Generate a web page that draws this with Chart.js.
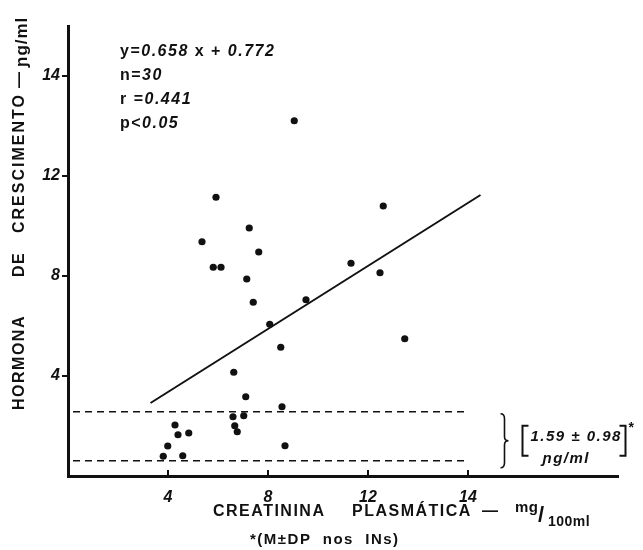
<!DOCTYPE html>
<html>
<head>
<meta charset="utf-8">
<script src="https://cdn.jsdelivr.net/npm/chart.js@4"></script>
<style>
  html, body { margin: 0; padding: 0; background: #fff; }
</style>
</head>
<body>
<canvas id="myChart" width="643" height="550"></canvas>
<script>
// dados (creatinina mg/100ml x hormona de crescimento)
var creatinina = [5.92, 5.36, 7.25, 7.63, 5.81, 6.12, 7.15, 7.41, 9.52, 8.07,
                  8.51, 6.63, 7.11, 8.56, 6.60, 7.03, 6.67, 6.77, 4.28, 4.40,
                  4.83, 3.99, 8.68, 3.81, 4.59, 12.61, 11.32, 12.48, 13.47, 9.05];
var hormona = [11.15, 9.37, 9.92, 8.96, 8.35, 8.35, 7.88, 6.95, 7.05, 6.07,
               5.15, 4.15, 3.17, 2.77, 2.37, 2.41, 2.01, 1.77, 2.04, 1.65,
               1.72, 1.20, 1.21, 0.79, 0.81, 10.80, 8.51, 8.13, 5.49, 14.21];

// reta de regressao (extremos como desenhados)
var retaX = [3.3, 16.5];
var retaY = [2.92, 11.24];

// faixa M +- DP nos INs
var faixaX = [0.2, 16];
var faixaSup = [2.57, 2.57];
var faixaInf = [0.61, 0.61];

var tickValores = [4, 8, 12, 16];
var tickTextos = ['4', '8', '12', '14'];

function pares(xs, ys) {
  return xs.map(function (v, i) { return { x: v, y: ys[i] }; });
}

const negrito = 'bold 16px "Liberation Sans"';
const italico = 'italic bold 16px "Liberation Sans"';

function escreve(c, x, y, partes) {
  partes.forEach(function (p) {
    c.font = p[1];
    c.fillText(p[0], x, y);
    x += c.measureText(p[0]).width;
  });
  return x;
}

const textos = {
  id: 'textos',
  afterDraw: function (chart) {
    const c = chart.ctx;
    const sx = chart.scales.x, sy = chart.scales.y;
    const area = chart.chartArea;
    c.save();
    c.fillStyle = '#111';
    c.strokeStyle = '#111';
    c.textBaseline = 'middle';
    c.textAlign = 'left';
    c.letterSpacing = '1.5px';

    // estatisticas
    escreve(c, 120, 52, [['y=', negrito], ['0.658', italico], [' x + ', negrito], ['0.772', italico]]);
    escreve(c, 120, 76, [['n=', negrito], ['30', italico]]);
    escreve(c, 120, 100, [['r =', negrito], ['0.441', italico]]);
    escreve(c, 120, 124, [['p<', negrito], ['0.05', italico]]);

    // marcas do eixo x (para dentro)
    c.lineWidth = 2;
    tickValores.forEach(function (v) {
      const px = sx.getPixelForValue(v);
      c.beginPath();
      c.moveTo(px, area.bottom);
      c.lineTo(px, area.bottom - 6);
      c.stroke();
    });

    // chaveta da faixa
    const yTop = sy.getPixelForValue(faixaSup[0]) + 2;
    const yBot = sy.getPixelForValue(faixaInf[0]) + 7;
    const mid = (yTop + yBot) / 2;
    const bx = sx.getPixelForValue(17.3);
    c.lineWidth = 1.6;
    c.beginPath();
    c.moveTo(bx, yTop);
    c.quadraticCurveTo(bx + 4, yTop, bx + 4, yTop + 5);
    c.lineTo(bx + 4, mid - 4);
    c.quadraticCurveTo(bx + 4, mid, bx + 8, mid);
    c.quadraticCurveTo(bx + 4, mid, bx + 4, mid + 4);
    c.lineTo(bx + 4, yBot - 5);
    c.quadraticCurveTo(bx + 4, yBot, bx, yBot);
    c.stroke();

    // colchetes
    const l = bx + 22, r = bx + 125, t = mid - 15, b = mid + 15;
    c.lineWidth = 2;
    c.beginPath();
    c.moveTo(l + 6, t); c.lineTo(l, t); c.lineTo(l, b); c.lineTo(l + 6, b);
    c.moveTo(r - 6, t); c.lineTo(r, t); c.lineTo(r, b); c.lineTo(r - 6, b);
    c.stroke();
    c.font = 'italic bold 15px "Liberation Sans"';
    c.fillText('1.59 \u00b1 0.98', l + 8, mid - 4);
    c.fillText('\u0272g/ml', l + 20, mid + 18);
    c.font = 'bold 14px "Liberation Sans"';
    c.fillText('*', r + 3, t + 2);

    // titulo eixo x
    c.font = negrito;
    c.fillText('CREATININA', 213, 512);
    c.fillText('PLASM\u00c1TICA', 352, 512);
    c.fillText('\u2014', 482, 512);
    c.font = 'bold 15px "Liberation Sans"';
    c.letterSpacing = '0.5px';
    c.fillText('mg', 515, 508);
    c.font = 'bold 22px "Liberation Sans"';
    c.fillText('/', 538, 516);
    c.font = 'bold 14px "Liberation Sans"';
    c.fillText('100ml', 548, 522);
    c.letterSpacing = '1.5px';
    c.font = 'bold 15px "Liberation Sans"';
    c.fillText('*(M\u00b1DP  nos  INs)', 250, 540);

    // titulo eixo y (rodado)
    c.translate(20, 410);
    c.rotate(-Math.PI / 2);
    c.font = negrito;
    c.fillText('HORMONA', 0, 0);
    c.fillText('DE', 133, 0);
    c.letterSpacing = '2px';
    c.fillText('CRESCIMENTO', 177, 0);
    c.letterSpacing = '1px';
    c.fillText('\u2014', 322, 0);
    c.font = 'bold 17px "Liberation Sans"';
    c.fillText('\u0272g/ml', 343, 2);
    c.restore();
  }
};

const ctx = document.getElementById('myChart');
new Chart(ctx, {
  type: 'scatter',
  data: {
    datasets: [
      {
        label: 'pontos',
        data: pares(creatinina, hormona),
        backgroundColor: '#111',
        borderWidth: 0,
        pointRadius: 3.6,
      },
      {
        label: 'regressao',
        data: pares(retaX, retaY),
        showLine: true,
        borderColor: '#111',
        borderWidth: 2,
        pointRadius: 0,
      },
      {
        label: 'M+DP',
        data: pares(faixaX, faixaSup),
        showLine: true,
        borderColor: '#111',
        borderWidth: 1.5,
        borderDash: [7, 5],
        pointRadius: 0,
      },
      {
        label: 'M-DP',
        data: pares(faixaX, faixaInf),
        showLine: true,
        borderColor: '#111',
        borderWidth: 1.5,
        borderDash: [7, 5],
        pointRadius: 0,
      },
    ],
  },
  options: {
    responsive: false,
    animation: false,
    layout: { padding: { top: 26, right: 25, left: 0, bottom: 0 } },
    plugins: {
      legend: { display: false },
      tooltip: { enabled: false },
    },
    scales: {
      x: {
        type: 'linear',
        min: 0,
        max: 22,
        border: { color: '#111', width: 3 },
        grid: { display: false },
        ticks: {
          color: '#111',
          padding: 4,
          font: { family: 'Liberation Sans', size: 16, style: 'italic', weight: 'bold' },
          callback: function (v) { return tickTextos[tickValores.indexOf(v)]; },
        },
        afterBuildTicks: function (s) { s.ticks = tickValores.map(function (v) { return { value: v }; }); },
        afterFit: function (s) { s.height = 74; },
      },
      y: {
        type: 'linear',
        min: 0,
        max: 18,
        border: { color: '#111', width: 3 },
        grid: { drawOnChartArea: false, tickLength: 6, color: '#111', lineWidth: 2 },
        ticks: {
          color: '#111',
          padding: 2,
          font: { family: 'Liberation Sans', size: 16, style: 'italic', weight: 'bold' },
          callback: function (v) { return tickTextos[tickValores.indexOf(v)]; },
        },
        afterBuildTicks: function (s) { s.ticks = tickValores.map(function (v) { return { value: v }; }); },
        afterFit: function (s) { s.width = 68; },
      },
    },
  },
  plugins: [textos],
});
</script>
</body>
</html>
